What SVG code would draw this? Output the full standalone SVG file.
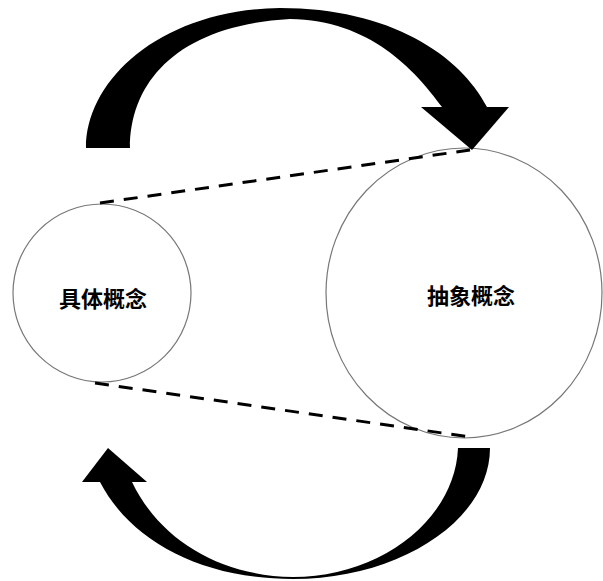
<svg xmlns="http://www.w3.org/2000/svg" width="603" height="581" viewBox="0 0 603 581">
<style>
.node{fill:none;stroke:#777;stroke-width:1.2}
.lbl{font-family:"Noto Sans CJK SC","Noto Sans CJK JP",sans-serif;font-size:22px;font-weight:bold;fill:#000;text-anchor:middle;dominant-baseline:central}
.dash{stroke:#000;stroke-width:3;stroke-dasharray:14 10;fill:none}
.arrow{fill:#000;stroke:none}
</style>
<rect width="603" height="581" fill="#fff"/>
<g id="concrete">
<circle class="node" cx="102" cy="293" r="89"/>
<text class="lbl" x="103" y="297">具体概念</text>
</g>
<g id="abstract">
<ellipse class="node" cx="464" cy="293" rx="138" ry="145"/>
<text class="lbl" x="471" y="294">抽象概念</text>
</g>
<g id="connectors">
<line class="dash" x1="100" y1="203" x2="470" y2="150"/>
<line class="dash" x1="95" y1="383" x2="470" y2="437"/>
<g id="top-arrow">
<path class="arrow" d="M86,148 C86,80 160,10 280,8 C390,8 460,55 487,107 L442,107 C415,70 370,20 290,19 C180,25 130,80 130,148 Z"/>
<polygon class="arrow" points="421,107 509,107 472,150"/>
</g>
<g id="bottom-arrow">
<path class="arrow" d="M490,448 C490,520 400,579 293,579 C200,579 130,540 100,482 L132,482 C160,540 220,576 293,577 C380,577 455,520 458,448 Z"/>
<polygon class="arrow" points="82,482 147,482 108,448"/>
</g>
</g>
</svg>
